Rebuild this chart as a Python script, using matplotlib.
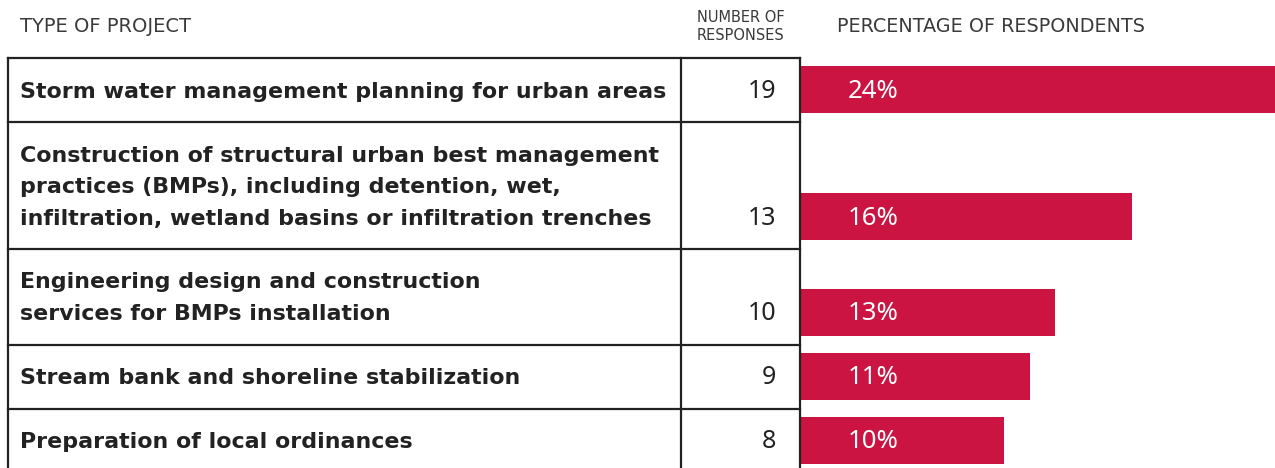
#!/usr/bin/env python3

# +
# import(s)
# -
import matplotlib as mpl
mpl.use('Agg')
import matplotlib.pyplot as plt


# +
# data
# -
projects = [
    "Storm water management planning for urban areas",
    "Construction of structural urban best management\npractices (BMPs), including detention, wet,\ninfiltration, wetland basins or infiltration trenches",
    "Engineering design and construction\nservices for BMPs installation",
    "Stream bank and shoreline stabilization",
    "Preparation of local ordinances",
]
responses = [19, 13, 10, 9, 8]
pct_labels = ["24%", "16%", "13%", "11%", "10%"]

col_headers = ["TYPE OF PROJECT", "NUMBER OF\nRESPONSES", "PERCENTAGE OF RESPONDENTS"]

# +
# style
# -
RED = '#CC1442'
INK = '#222222'
FONT = ['Noto Sans', 'DejaVu Sans']
W, H = 1275, 468
TABLE_L, TABLE_TOP, COL_DIV, TABLE_R = 8, 58, 681, 800
LINE_H, ROW_PAD = 31.5, 32.5
PX_PER_RESP = 25.5

plt.rcParams['font.family'] = FONT

fig = plt.figure(figsize=(W / 100, H / 100), dpi=100)

# bars (drawn underneath the table/text layer)
bx = fig.add_axes([TABLE_R / W, 0, (W - TABLE_R) / W, 1])
bx.set_xlim(0, (W - TABLE_R) / PX_PER_RESP)
bx.set_ylim(H, 0)
bx.axis('off')
bx.set_zorder(1)

base = fig.add_axes([0, 0, 1, 1])
base.set_xlim(0, W)
base.set_ylim(H, 0)
base.axis('off')
base.set_zorder(2)
base.patch.set_alpha(0)

# row geometry from number of text lines
tops, last_line = [], []
y = TABLE_TOP
for p in projects:
    n = p.count('\n') + 1
    tops.append(y)
    last_line.append(y + 31.5 + (n - 1) * LINE_H)
    y += ROW_PAD + n * LINE_H

bx.barh(last_line, responses, height=47, color=RED, left=0)

# table lines
lw = 1.6
base.plot([TABLE_L, TABLE_R], [TABLE_TOP, TABLE_TOP], color=INK, lw=lw)
for t in tops[1:]:
    base.plot([TABLE_L, TABLE_R], [t, t], color=INK, lw=lw)
for x in (TABLE_L, COL_DIV, TABLE_R):
    base.plot([x, x], [TABLE_TOP, H + 5], color=INK, lw=lw)

# headers
hdr = dict(color='#3a3a3a', va='center', family=['DejaVu Sans'])
base.text(20, 27, col_headers[0], fontsize=14, ha='left', **hdr)
base.text(741, 27, col_headers[1], fontsize=10.5, ha='center', linespacing=1.25, **hdr)
base.text(837, 27, col_headers[2], fontsize=13.8, ha='left', **hdr)

# row text (baseline ~8px below the line centre)
for p, t, r, yl in zip(projects, tops, responses, last_line):
    for i, line in enumerate(p.split('\n')):
        base.text(20, t + 31.5 + i * LINE_H + 8, line, fontsize=15.9, fontweight='bold',
                  family=['DejaVu Sans'],
                  color=INK, va='baseline', ha='left')
    base.text(776, yl + 8.5, f"{r}", fontsize=18, color=INK, va='baseline', ha='right')

for yl, lab in zip(last_line, pct_labels):
    base.text(848, yl + 8.5, lab, fontsize=18.5, color='white', va='baseline', ha='left')

plt.savefig('out.png', dpi=100)
